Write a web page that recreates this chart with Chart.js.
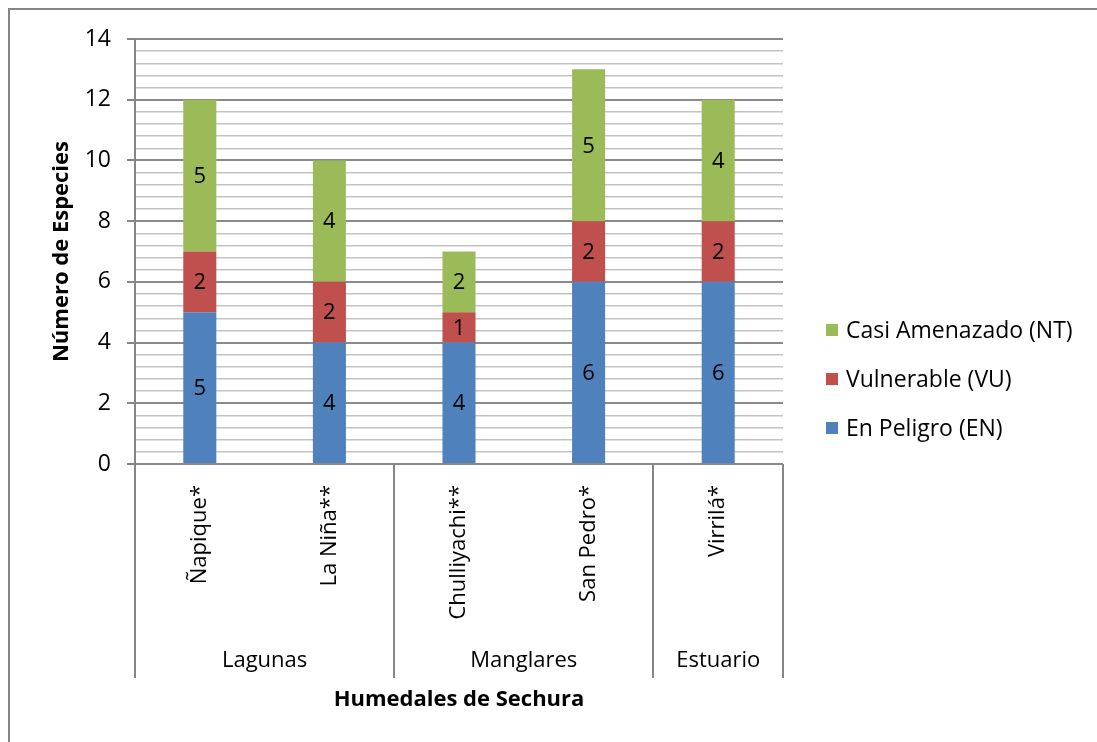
<!DOCTYPE html>
<html>
<head>
<meta charset="utf-8">
<script src="https://cdn.jsdelivr.net/npm/chart.js@4/dist/chart.umd.min.js"></script>
<style>
  html, body { margin: 0; padding: 0; background: #ffffff; }
  canvas { display: block; }
</style>
</head>
<body>
<canvas id="chart" width="1097" height="742"></canvas>
<script>
// Humedales de Sechura: threatened bird species per wetland
const sites = ['Ñapique*', 'La Niña**', 'Chulliyachi**', 'San Pedro*', 'Virrilá*'];
const groupNames = ['Lagunas', 'Manglares', 'Estuario'];
const groupSizes = [2, 2, 1];

const enPeligro = [5, 4, 4, 6, 6];
const vulnerable = [2, 2, 1, 2, 2];
const casiAmenazado = [5, 4, 2, 5, 4];

const seriesNames = ['En Peligro (EN)', 'Vulnerable (VU)', 'Casi Amenazado (NT)'];
const seriesColors = ['#4F81BD', '#C0504D', '#9BBB59'];

const yMax = 14;
const yMajorStep = 2;
const yMinorStep = 0.4;

const axisTitleY = 'Número de Especies';
const axisTitleX = 'Humedales de Sechura';

const FONT = '"Open Sans", "DejaVu Sans", sans-serif';
const TEXT_SIZE = 22;
const LEGEND_SIZE = 23;
const TICK_SIZE = 23;
const TITLE_SIZE = 22;
const LINE_GRAY = '#868686';

function isMajor(v) {
  return Math.abs(v / yMajorStep - Math.round(v / yMajorStep)) < 1e-6;
}

// Value labels centred inside each stacked segment
const segmentLabels = {
  id: 'segmentLabels',
  afterDatasetsDraw(chart) {
    const ctx = chart.ctx;
    ctx.save();
    ctx.font = TEXT_SIZE + 'px ' + FONT;
    ctx.fillStyle = '#000000';
    ctx.textAlign = 'center';
    ctx.textBaseline = 'middle';
    chart.data.datasets.forEach((ds, di) => {
      const meta = chart.getDatasetMeta(di);
      meta.data.forEach((bar, i) => {
        const v = ds.data[i];
        if (!v) return;
        const cy = (bar.y + bar.base) / 2;
        ctx.fillText(String(v), bar.x, cy + 1);
      });
    });
    ctx.restore();
  }
};

// Outer frame, grouped category axis, axis titles and legend
const decorations = {
  id: 'decorations',
  beforeDraw(chart) {
    const ctx = chart.ctx;
    ctx.save();
    ctx.fillStyle = '#ffffff';
    ctx.fillRect(0, 0, chart.width, chart.height);
    ctx.strokeStyle = LINE_GRAY;
    ctx.lineWidth = 2;
    ctx.strokeRect(9, 9, chart.width + 40, chart.height + 40);
    ctx.restore();
  },
  afterDraw(chart) {
    const ctx = chart.ctx;
    const xs = chart.scales.x;
    const area = chart.chartArea;
    const n = sites.length;
    const catW = (xs.right - xs.left) / n;
    const top = area.bottom;
    const bottom = xs.bottom;

    ctx.save();
    ctx.strokeStyle = LINE_GRAY;
    ctx.lineWidth = 2;
    // group separators
    let idx = 0;
    const bounds = [0];
    groupSizes.forEach(s => { idx += s; bounds.push(idx); });
    bounds.forEach(b => {
      const x = Math.round(xs.left + b * catW);
      ctx.beginPath();
      ctx.moveTo(x, top);
      ctx.lineTo(x, bottom);
      ctx.stroke();
    });

    // group names
    ctx.fillStyle = '#000000';
    ctx.font = TEXT_SIZE + 'px ' + FONT;
    ctx.textAlign = 'center';
    ctx.textBaseline = 'middle';
    for (let g = 0; g < groupNames.length; g++) {
      const cx = xs.left + (bounds[g] + bounds[g + 1]) / 2 * catW;
      ctx.fillText(groupNames[g], cx, bottom - 17);
    }

    // axis titles
    ctx.font = 'bold ' + TITLE_SIZE + 'px ' + FONT;
    ctx.fillText(axisTitleX, (area.left + area.right) / 2, 700);
    ctx.save();
    ctx.translate(62, (area.top + area.bottom) / 2);
    ctx.rotate(-Math.PI / 2);
    ctx.fillText(axisTitleY, 0, 0);
    ctx.restore();

    // legend (top entry is the top of the stack)
    ctx.font = LEGEND_SIZE + 'px ' + FONT;
    ctx.textAlign = 'left';
    const legendY = [428, 379, 330];
    for (let s = 0; s < seriesNames.length; s++) {
      ctx.fillStyle = seriesColors[s];
      ctx.fillRect(826, legendY[s] - 6, 12, 12);
      ctx.fillStyle = '#000000';
      ctx.fillText(seriesNames[s], 846, legendY[s] + 1);
    }
    ctx.restore();
  }
};

const datasets = [enPeligro, vulnerable, casiAmenazado].map((vals, i) => ({
  label: seriesNames[i],
  data: vals,
  backgroundColor: seriesColors[i],
  borderWidth: 0,
  barPercentage: 0.255,
  categoryPercentage: 1.0
}));

new Chart(document.getElementById('chart'), {
  type: 'bar',
  data: { labels: sites, datasets },
  options: {
    responsive: false,
    animation: false,
    devicePixelRatio: 1,
    layout: { padding: { top: 39, right: 314, bottom: 64, left: 0 } },
    plugins: {
      legend: { display: false },
      tooltip: { enabled: false }
    },
    scales: {
      x: {
        stacked: true,
        afterFit(scale) { scale.height = 214; },
        grid: { display: false, drawTicks: false },
        border: { display: false },
        ticks: {
          minRotation: 90,
          maxRotation: 90,
          autoSkip: false,
          padding: 21,
          color: '#000000',
          font: { family: FONT, size: TEXT_SIZE }
        }
      },
      y: {
        stacked: true,
        min: 0,
        max: yMax,
        afterFit(scale) { scale.width = 135; },
        border: { display: true, color: LINE_GRAY, width: 2 },
        grid: {
          color: c => isMajor(c.tick.value) ? '#8a8a8a' : '#c3c3c3',
          lineWidth: c => isMajor(c.tick.value) ? 2 : 1.5,
          tickColor: c => isMajor(c.tick.value) ? LINE_GRAY : 'rgba(0,0,0,0)',
          tickLength: 8,
          tickWidth: 2
        },
        ticks: {
          stepSize: yMinorStep,
          autoSkip: false,
          padding: 16,
          color: '#000000',
          font: { family: FONT, size: TICK_SIZE },
          callback: v => isMajor(v) ? String(Math.round(v)) : ''
        }
      }
    }
  },
  plugins: [decorations, segmentLabels]
});
</script>
</body>
</html>
